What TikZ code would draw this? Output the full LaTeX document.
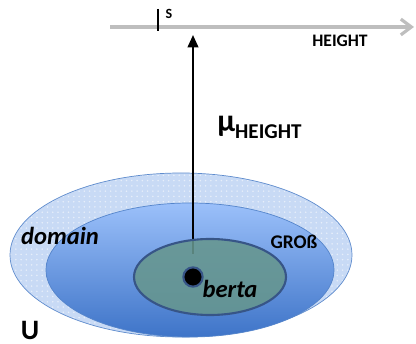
\documentclass[tikz,border=0pt]{standalone}
\usepackage{fontspec}
\setmainfont{Carlito}
\usepackage{tikz}
\usetikzlibrary{arrows.meta,patterns}
\usepackage{xcolor}
\definecolor{uBlue}{RGB}{200,218,245}
\definecolor{uLine}{RGB}{95,140,205}
\definecolor{grTop}{RGB}{155,192,250}
\definecolor{grBot}{RGB}{62,116,200}
\definecolor{bTeal}{RGB}{102,150,142}
\definecolor{bLine}{RGB}{55,85,135}
\definecolor{axGray}{RGB}{190,190,190}

\begin{document}
\begin{tikzpicture}[x=0.02cm,y=-0.02cm,
    lbl/.style={inner sep=0pt,font=\bfseries},
    ilbl/.style={inner sep=0pt,font=\bfseries\itshape\fontsize{14}{16}\selectfont}]
  \useasboundingbox (0,0) rectangle (416,344);
  % U (outer set)
  \fill[uBlue] (181,255) ellipse (171 and 82);
  \fill[pattern=dots,pattern color=uBlue!45!white] (181,255) ellipse (171 and 82);
  \draw[uLine,thin] (181,255) ellipse (171 and 82);
  % GROSS (middle set)
  \shade[top color=grTop,bottom color=grBot] (190,270) ellipse (144 and 67);
  \draw[uLine!70!grBot,thin] (190,270) ellipse (144 and 67);
  % scale HEIGHT
  \coordinate (axstart) at (110,27);
  \coordinate (axend) at (414,27);
  \draw[axGray,line width=1.8pt,-{Straight Barb[length=6pt,width=9pt]}] (axstart) -- (axend);
  \coordinate (stop) at (158,9);
  \coordinate (sbot) at (158,31);
  \draw[thick] (stop) -- (sbot);
  \node[lbl,font=\bfseries\fontsize{8}{9}\selectfont] (slbl) at (169,14) {S};
  \node[lbl,font=\bfseries\fontsize{10}{12}\selectfont] (height) at (340,41) {HEIGHT};
  % mu arrow
  \coordinate (mufoot) at (193,254);
  \coordinate (mutip) at (193,35);
  \draw[line width=1.2pt,-{Triangle[length=7pt,width=6pt]}] (mufoot) -- (mutip);
  \node[lbl,anchor=west] (mu) at (217,127)
    {\fontsize{18}{18}\selectfont μ\raisebox{-0.45ex}{\fontsize{12}{12}\selectfont HEIGHT}};
  % berta (inner set)
  \fill[bTeal,fill opacity=0.88] (210,277) ellipse (76 and 38);
  \draw[bLine,line width=1.2pt] (210,277) ellipse (76 and 38);
  \node[circle,fill=black,draw=bLine,line width=1.2pt,inner sep=0pt,minimum size=11pt] (dot) at (193,277) {};
  % labels
  \node[ilbl] (berta) at (230,289) {berta};
  \node[ilbl] (domain) at (60,236) {domain};
  \node[lbl,font=\bfseries\fontsize{11}{13}\selectfont] (gross) at (294,242) {GROß};
  \node[lbl,font=\bfseries\fontsize{16}{18}\selectfont] (ulbl) at (30,330) {U};
\end{tikzpicture}
\end{document}
